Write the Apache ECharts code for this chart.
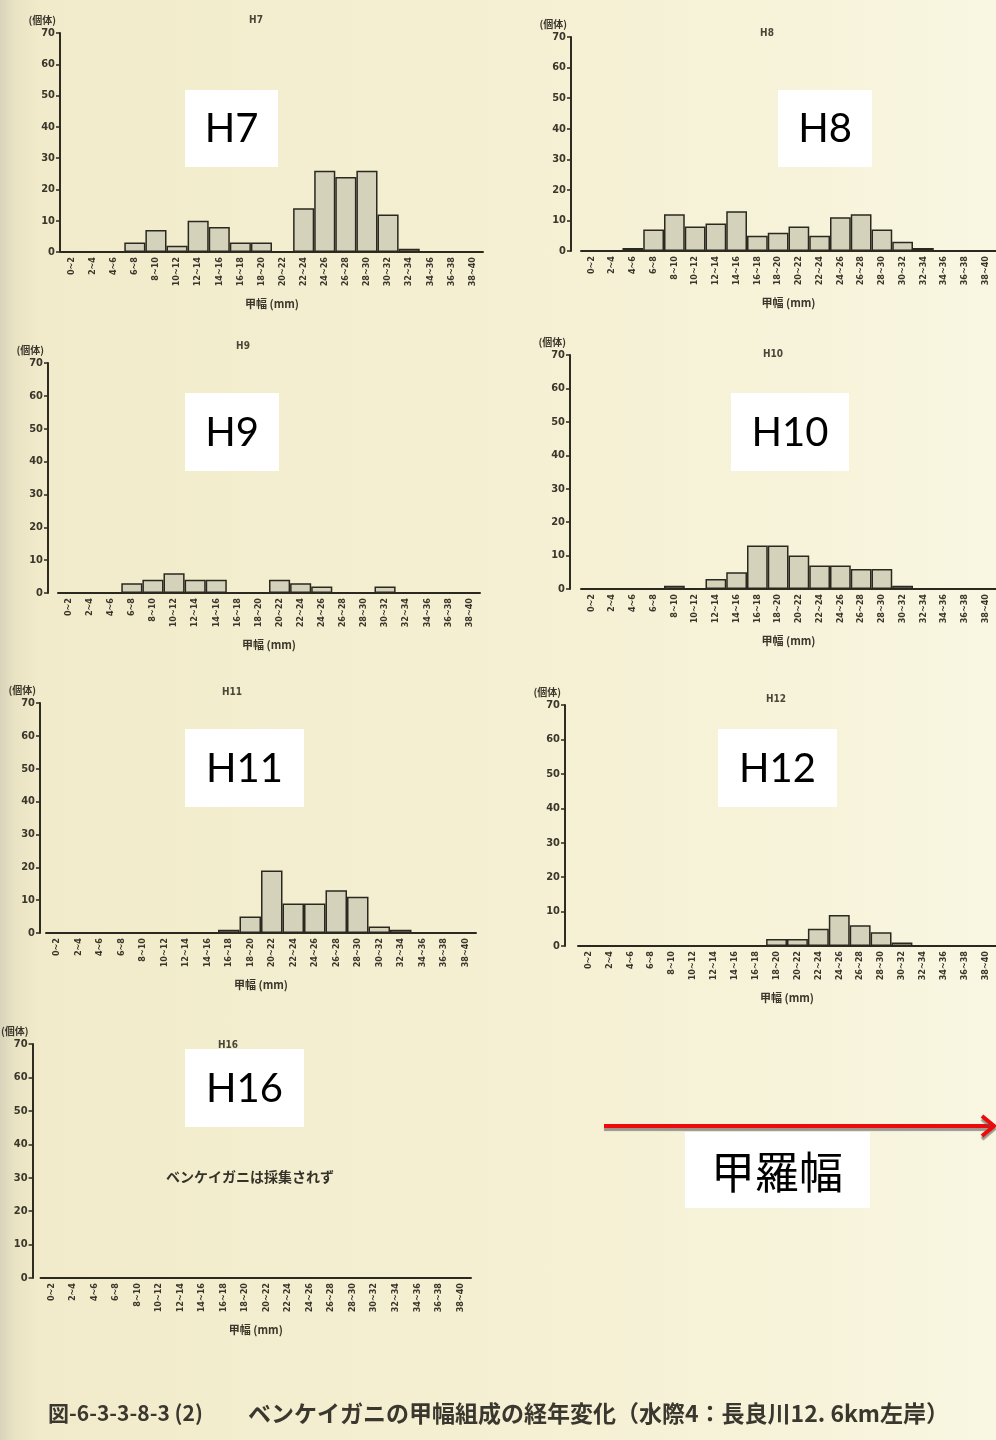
<!DOCTYPE html>
<html><head><meta charset="utf-8">
<script src="https://cdn.jsdelivr.net/npm/echarts@6/dist/echarts.min.js"></script>
<style>
html,body{margin:0;padding:0;}
body{width:996px;height:1440px;background:linear-gradient(90deg,#d8d3bb 0px,#e9e3c4 14px,#f1ebcb 40px,#f3eecf 300px,#f5f0d3 520px,#f7f3da 800px,#f9f6e2 996px);}
#c{width:996px;height:1440px;}
</style></head>
<body><div id="c"></div>
<script>
const categories = ['0~2','2~4','4~6','6~8','8~10','10~12','12~14','14~16','16~18','18~20','20~22','22~24','24~26','26~28','28~30','30~32','32~34','34~36','36~38','38~40'];
const years = ['H7','H8','H9','H10','H11','H12','H16'];
const h7  = [0,0,0,3,7,2,10,8,3,3,0,14,26,24,26,12,1,0,0,0];
const h8  = [0,0,1,7,12,8,9,13,5,6,8,5,11,12,7,3,1,0,0,0];
const h9  = [0,0,0,3,4,6,4,4,0,0,4,3,2,0,0,2,0,0,0,0];
const h10 = [0,0,0,0,1,0,3,5,13,13,10,7,7,6,6,1,0,0,0,0];
const h11 = [0,0,0,0,0,0,0,0,1,5,19,9,9,13,11,2,1,0,0,0];
const h12 = [0,0,0,0,0,0,0,0,0,2,2,5,9,6,4,1,0,0,0,0];
const h16 = [0,0,0,0,0,0,0,0,0,0,0,0,0,0,0,0,0,0,0,0];
const yTicks = [0,10,20,30,40,50,60,70];
const yName = '(個体)';
const xName = '甲幅 (mm)';
const noCatch = 'ベンケイガニは採集されず';
const captionNo = '図-6-3-3-8-3 (2)';
const captionText = 'ベンケイガニの甲幅組成の経年変化（水際4：長良川12. 6km左岸）';
const arrowLabel = '甲羅幅';

const seriesData = [h7,h8,h9,h10,h11,h12,h16];
// layout of each panel: grid box, y-axis offset, small title position, big label box
const panels = [
  {left:61, width:422, top:33,  height:219, off:1,  t:[256,20],  box:[185,90,93,77]},
  {left:581,width:420, top:37,  height:214, off:10, t:[767,33],  box:[778,90,94,77]},
  {left:58, width:422, top:363, height:230, off:10, t:[243,346], box:[185,393,94,78]},
  {left:581,width:428, top:355, height:234, off:11, t:[773,354], box:[731,393,118,78]},
  {left:46, width:430, top:703, height:230, off:6,  t:[232,692], box:[185,729,119,78]},
  {left:578,width:430, top:705, height:241, off:13, t:[776,699], box:[718,729,119,78]},
  {left:39, width:432, top:1044,height:234, off:8,  t:[228,1045],box:[185,1049,119,78]}
];
const ink = '#2e2b22';
const cjk = '"Noto Sans CJK JP", sans-serif';
const grids=[], xAxes=[], yAxes=[], series=[], graphics=[];
panels.forEach((p,i)=>{
  grids.push({left:p.left, top:p.top, width:p.width, height:p.height, containLabel:false});
  xAxes.push({type:'category', gridIndex:i, data:categories, boundaryGap:true,
    axisLine:{lineStyle:{color:ink,width:2}},
    axisTick:{alignWithLabel:true,length:3,lineStyle:{color:ink,width:1.5}},
    axisLabel:{interval:0, rotate:90, fontSize:9, fontWeight:'bold', color:'#3a362b', margin:5,
      fontFamily:'"DejaVu Sans Condensed","DejaVu Sans",sans-serif'},
    name:xName, nameLocation:'middle', nameGap:46,
    nameTextStyle:{fontSize:11, fontWeight:'bold', color:'#3a362b', fontFamily:cjk},
    splitLine:{show:false}});
  yAxes.push({type:'value', gridIndex:i, min:yTicks[0], max:yTicks[yTicks.length-1], interval:10, offset:p.off,
    axisLine:{show:true,lineStyle:{color:ink,width:2}},
    axisTick:{show:true,length:4,lineStyle:{color:ink,width:1.5}},
    axisLabel:{fontSize:11, fontWeight:'bold', color:'#3a362b', margin:5,
      fontFamily:'"DejaVu Sans Condensed","DejaVu Sans",sans-serif'},
    splitLine:{show:false},
    name:yName, nameLocation:'end', nameGap:8,
    nameTextStyle:{fontSize:10, fontWeight:'bold', color:'#3a362b', align:'right', padding:[0,4,0,0], fontFamily:cjk}});
  series.push({type:'bar', name:years[i], xAxisIndex:i, yAxisIndex:i, data:seriesData[i],
    barCategoryGap:'0%', silent:true,
    itemStyle:{color:'#d5d2bb', borderColor:'#2a281f', borderWidth:1.5}});
  graphics.push({type:'text', x:p.t[0], y:p.t[1], z:5,
    style:{text:years[i], fontSize:10, fontWeight:'bold', fill:'#4a4638', textAlign:'center', textVerticalAlign:'middle', fontFamily:'"DejaVu Sans Condensed",sans-serif'}});
  graphics.push({type:'rect', shape:{x:p.box[0], y:p.box[1], width:p.box[2], height:p.box[3]}, z:10,
    style:{fill:'#ffffff'}});
  graphics.push({type:'text', x:p.box[0]+p.box[2]/2, y:p.box[1]+p.box[3]/2+1, z:11,
    style:{text:years[i], fontSize:40, fill:'#000', textAlign:'center', textVerticalAlign:'middle', fontFamily:'Lato, "Open Sans", sans-serif'}});
});
// no-catch note in H16
graphics.push({type:'text', x:250, y:1177, z:5,
  style:{text:noCatch, fontSize:14, fontWeight:'bold', fill:'#35322a', textAlign:'center', textVerticalAlign:'middle', fontFamily:cjk}});
// arrow
graphics.push({type:'line', shape:{x1:604,y1:1126,x2:992,y2:1126}, z:8,
  style:{stroke:'#ee0a0a', lineWidth:4, shadowColor:'rgba(90,90,90,0.6)', shadowOffsetY:3, shadowBlur:1}});
graphics.push({type:'polyline', shape:{points:[[982,1116],[994,1126],[982,1136]]}, z:8,
  style:{stroke:'#ee0a0a', fill:null, lineWidth:4, lineJoin:'miter', shadowColor:'rgba(90,90,90,0.6)', shadowOffsetY:3, shadowBlur:1}});
graphics.push({type:'rect', shape:{x:685,y:1132,width:185,height:76}, z:10, style:{fill:'#ffffff'}});
graphics.push({type:'text', x:777, y:1172, z:11,
  style:{text:arrowLabel, fontSize:44, fill:'#000', textAlign:'center', textVerticalAlign:'middle', fontFamily:cjk}});
// caption
graphics.push({type:'text', x:48, y:1413, z:5,
  style:{text:captionNo, fontSize:21, fontWeight:'bold', fill:'#3a372f', textVerticalAlign:'middle', fontFamily:cjk}});
graphics.push({type:'text', x:248, y:1413, z:5,
  style:{text:captionText, fontSize:23, fontWeight:'bold', fill:'#3a372f', textVerticalAlign:'middle', fontFamily:cjk}});

const chart = echarts.init(document.getElementById('c'), null, {renderer:'canvas'});
chart.setOption({
  backgroundColor:'transparent',
  animation:false,
  grid:grids, xAxis:xAxes, yAxis:yAxes, series:series, graphic:graphics
});
</script></body></html>
